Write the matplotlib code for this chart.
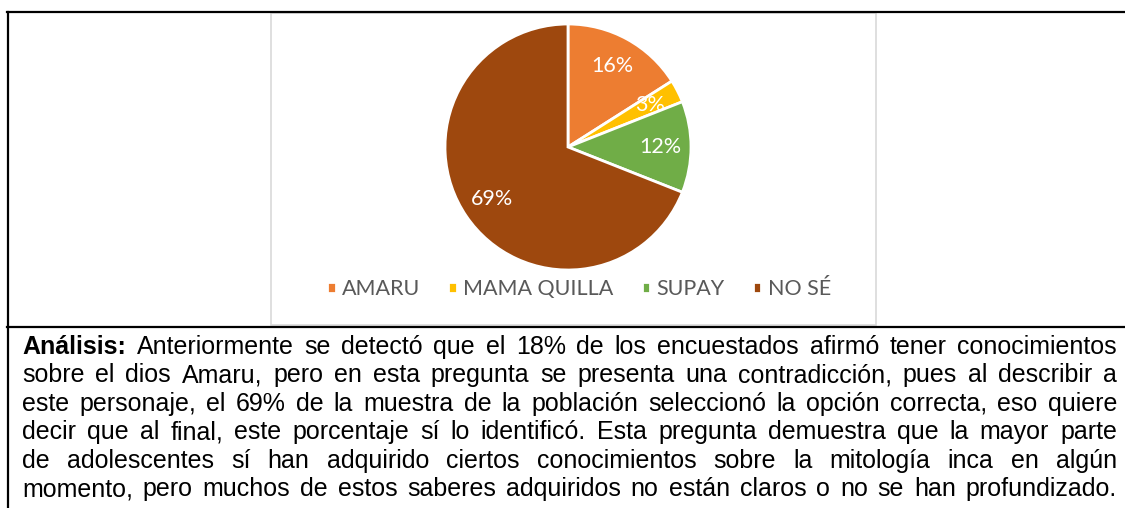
import matplotlib
matplotlib.use("Agg")
import matplotlib.pyplot as plt
from matplotlib.patches import Rectangle
from matplotlib.lines import Line2D

# data
categorias = ["AMARU", "MAMA QUILLA", "SUPAY", "NO SÉ"]
porcentajes = [16, 3, 12, 69]
colores = ["#ED7D31", "#FFC000", "#70AD47", "#9E480E"]

lineas = [
    "Anteriormente se detectó que el 18% de los encuestados afirmó tener conocimientos",
    "sobre el dios Amaru, pero en esta pregunta se presenta una contradicción, pues al describir a",
    "este personaje, el 69% de la muestra de la población seleccionó la opción correcta, eso quiere",
    "decir que al final, este porcentaje sí lo identificó. Esta pregunta demuestra que la mayor parte",
    "de adolescentes sí han adquirido ciertos conocimientos sobre la mitología inca en algún",
    "momento, pero muchos de estos saberes adquiridos no están claros o no se han profundizado.",
]
titulo = "Análisis:"

W, H = 1125, 508
fig = plt.figure(figsize=(W / 100, H / 100), dpi=100)

def fx(px):
    return px / W

def fy(py):
    return 1 - py / H

# table borders
lw_tab = 1.6
fig.add_artist(Line2D([fx(7), fx(1130)], [fy(12), fy(12)], color="black", lw=lw_tab))
fig.add_artist(Line2D([fx(7.5), fx(7.5)], [fy(12), fy(520)], color="black", lw=lw_tab))
fig.add_artist(Line2D([fx(7), fx(1130)], [fy(327), fy(327)], color="black", lw=lw_tab))

# chart box
fig.add_artist(Rectangle((fx(271), fy(325)), fx(876) - fx(271), fy(13) - fy(325),
                         fill=False, edgecolor="#D9D9D9", lw=1.2))

# pie
cx, cy, r = 568, 147, 123
ax = fig.add_axes([fx(cx - r), fy(cy + r), 2 * r / W, 2 * r / H])
wedges, txts, autotxts = ax.pie(porcentajes, colors=colores, startangle=90, counterclock=False,
                                autopct=lambda p: f"{p:.0f}%", pctdistance=0.75,
                                wedgeprops=dict(edgecolor="white", linewidth=2),
                                textprops=dict(color="white", fontsize=15.5, family="Lato"))
ax.set_xlim(-1, 1)
ax.set_ylim(-1, 1)
ax.set_aspect("equal")
ax.axis("off")

fig.legend(wedges, categorias, loc="center", bbox_to_anchor=(fx(579), fy(289)), ncol=4,
           frameon=False, handlelength=0.4, handleheight=0.4, handletextpad=0.3,
           columnspacing=1.3, prop=dict(family="Lato", size=15.5), labelcolor="#595959")

# justified paragraph
fs = 18
x0, x1 = 22, 1117
base0, paso = 354, 28.4
renderer = fig.canvas.get_renderer()
for i, linea in enumerate(lineas):
    palabras = linea.split(" ")
    pesos = ["normal"] * len(palabras)
    if i == 0:
        palabras = [titulo] + palabras
        pesos = ["bold"] + pesos
    objs = []
    for p, w in zip(palabras, pesos):
        t = fig.text(0, fy(base0 + i * paso), p, fontsize=fs, family="Liberation Sans",
                     fontweight=w, va="baseline", ha="left", color="black")
        objs.append(t)
    anchos = [t.get_window_extent(renderer).width for t in objs]
    hueco = (x1 - x0 - sum(anchos)) / (len(objs) - 1)
    x = x0
    for t, a in zip(objs, anchos):
        t.set_x(fx(x))
        x += a + hueco

fig.savefig("out.png", dpi=100)
